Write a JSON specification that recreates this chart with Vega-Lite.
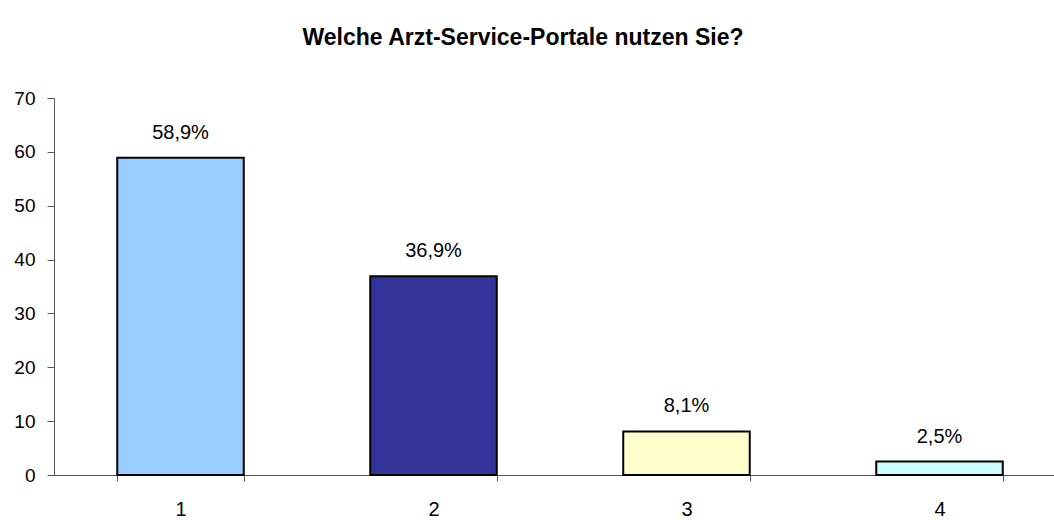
{
  "$schema": "https://vega.github.io/schema/vega-lite/v6.json",
  "width": 1012,
  "height": 377,
  "autosize": {"type": "none"},
  "padding": {"left": 54, "top": 98, "right": 0, "bottom": 45},
  "background": "white",
  "title": {
    "text": "Welche Arzt-Service-Portale nutzen Sie?",
    "font": "Liberation Sans",
    "fontSize": 23,
    "fontWeight": "bold",
    "color": "black",
    "anchor": "middle",
    "frame": "group",
    "dx": -37,
    "offset": 39
  },
  "config": {
    "view": {"stroke": null},
    "axis": {
      "labelFont": "Liberation Sans",
      "labelColor": "black",
      "domainColor": "#555",
      "tickColor": "#555",
      "domainWidth": 1,
      "tickWidth": 1,
      "grid": false,
      "title": null
    }
  },
  "data": {
    "values": [
      {"kategorie": "1", "wert": 58.9, "label": "58,9%"},
      {"kategorie": "2", "wert": 36.9, "label": "36,9%"},
      {"kategorie": "3", "wert": 8.1, "label": "8,1%"},
      {"kategorie": "4", "wert": 2.5, "label": "2,5%"}
    ]
  },
  "encoding": {
    "x": {
      "field": "kategorie",
      "type": "nominal",
      "scale": {"paddingInner": 0.5, "paddingOuter": 0.25},
      "axis": {"labelAngle": 0, "tickBand": "extent", "tickSize": 6, "labelPadding": 18, "labelFontSize": 20}
    },
    "y": {
      "field": "wert",
      "type": "quantitative",
      "scale": {"domain": [0, 70], "nice": false},
      "axis": {"values": [0, 10, 20, 30, 40, 50, 60, 70], "tickSize": 7, "labelPadding": 12, "labelFontSize": 19}
    }
  },
  "layer": [
    {
      "mark": {"type": "bar", "stroke": "black", "strokeWidth": 2},
      "encoding": {
        "color": {
          "field": "kategorie",
          "type": "nominal",
          "scale": {"range": ["#99CCFF", "#333399", "#FFFFCC", "#CCFFFF"]},
          "legend": null
        }
      }
    },
    {
      "mark": {"type": "text", "baseline": "bottom", "dy": -15, "font": "Liberation Sans", "fontSize": 20, "color": "black"},
      "encoding": {"text": {"field": "label"}}
    }
  ]
}
